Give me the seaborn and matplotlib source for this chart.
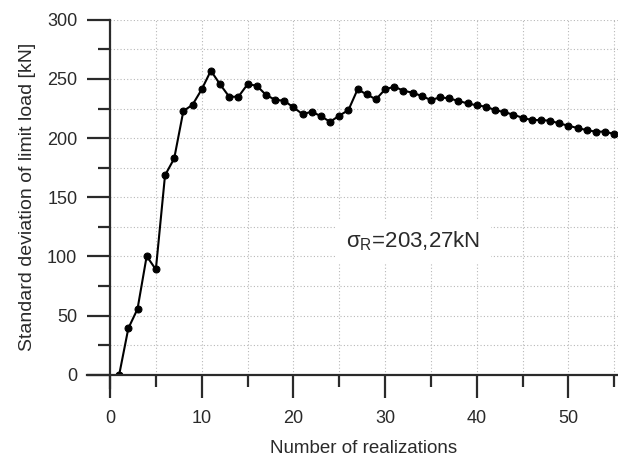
import numpy as np
import pandas as pd
import matplotlib
matplotlib.use("Agg")
import matplotlib.pyplot as plt
from matplotlib.ticker import MultipleLocator
import seaborn as sns

# Data
realizations = list(range(1, 56))
std_limit_load = [
    0.0, 39.3, 55.6, 100.3, 89.0, 168.6, 182.8, 222.9, 228.2, 241.2,
    257.0, 245.5, 235.0, 235.0, 245.5, 244.4, 236.6, 232.4, 231.6, 226.0,
    220.3, 222.3, 218.6, 213.8, 219.0, 223.7, 241.2, 237.0, 232.8, 241.2,
    243.5, 240.1, 238.4, 235.6, 232.2, 234.5, 233.6, 231.4, 229.4, 227.7,
    226.6, 223.7, 222.0, 219.8, 217.2, 215.3, 215.3, 214.7, 212.4, 210.5,
    208.5, 206.8, 205.4, 205.6, 203.27,
]
annotation_text = r"$\mathregular{\sigma_R}$=203,27kN"

df = pd.DataFrame({"n": realizations, "sigma": std_limit_load})

sns.set_style("white")
plt.rcParams["font.family"] = ["Liberation Sans", "DejaVu Sans"]
plt.rcParams["mathtext.fontset"] = "custom"
plt.rcParams["mathtext.rm"] = "Liberation Sans"
plt.rcParams["mathtext.it"] = "Liberation Sans"

text_color = "#2a2a2a"

fig = plt.figure(figsize=(6.18, 4.61), dpi=100)
ax = fig.add_axes([0.178, 0.187, 0.822, 0.77])

sns.lineplot(data=df, x="n", y="sigma", ax=ax, color="black", lw=1.5,
             marker="o", markersize=5, markeredgecolor="black")

ax.set_xlim(0, 55.4)
ax.set_ylim(0, 300)

# ticks: long major, short minor, outward
ax.xaxis.set_major_locator(MultipleLocator(10))
ax.xaxis.set_minor_locator(MultipleLocator(5))
ax.yaxis.set_major_locator(MultipleLocator(50))
ax.yaxis.set_minor_locator(MultipleLocator(25))
ax.tick_params(which="major", direction="out", length=16.5, width=1.6,
               labelsize=13, color=text_color, labelcolor=text_color)
ax.tick_params(axis="y", which="major", pad=7)
ax.tick_params(axis="x", which="major", pad=9)
ax.tick_params(which="minor", direction="out", length=8.5, width=1.6,
               color=text_color)
ax.tick_params(bottom=True, left=True, which="both")

# dotted grid on major and minor positions
ax.grid(True, which="both", linestyle=(0, (1, 2)), color="#b8b8b8", lw=0.8)

# only left and bottom axis lines, crossing past the origin
for side in ["top", "right"]:
    ax.spines[side].set_visible(False)
for side in ["left", "bottom"]:
    ax.spines[side].set_linewidth(1.6)
    ax.spines[side].set_color(text_color)
ax.spines["left"].set_bounds(-11, 300)
ax.spines["bottom"].set_bounds(-2.5, 55.4)

ax.set_xlabel("Number of realizations", fontsize=13.5, color=text_color,
              labelpad=9)
ax.set_ylabel("Standard deviation of limit load [kN]", fontsize=14,
              color=text_color, labelpad=8)

ax.text(33.1, 113, annotation_text, fontsize=16, ha="center", va="center",
        color=text_color,
        bbox=dict(boxstyle="square,pad=0.45", fc="white", ec="none"))

fig.savefig("out.png", dpi=100)
